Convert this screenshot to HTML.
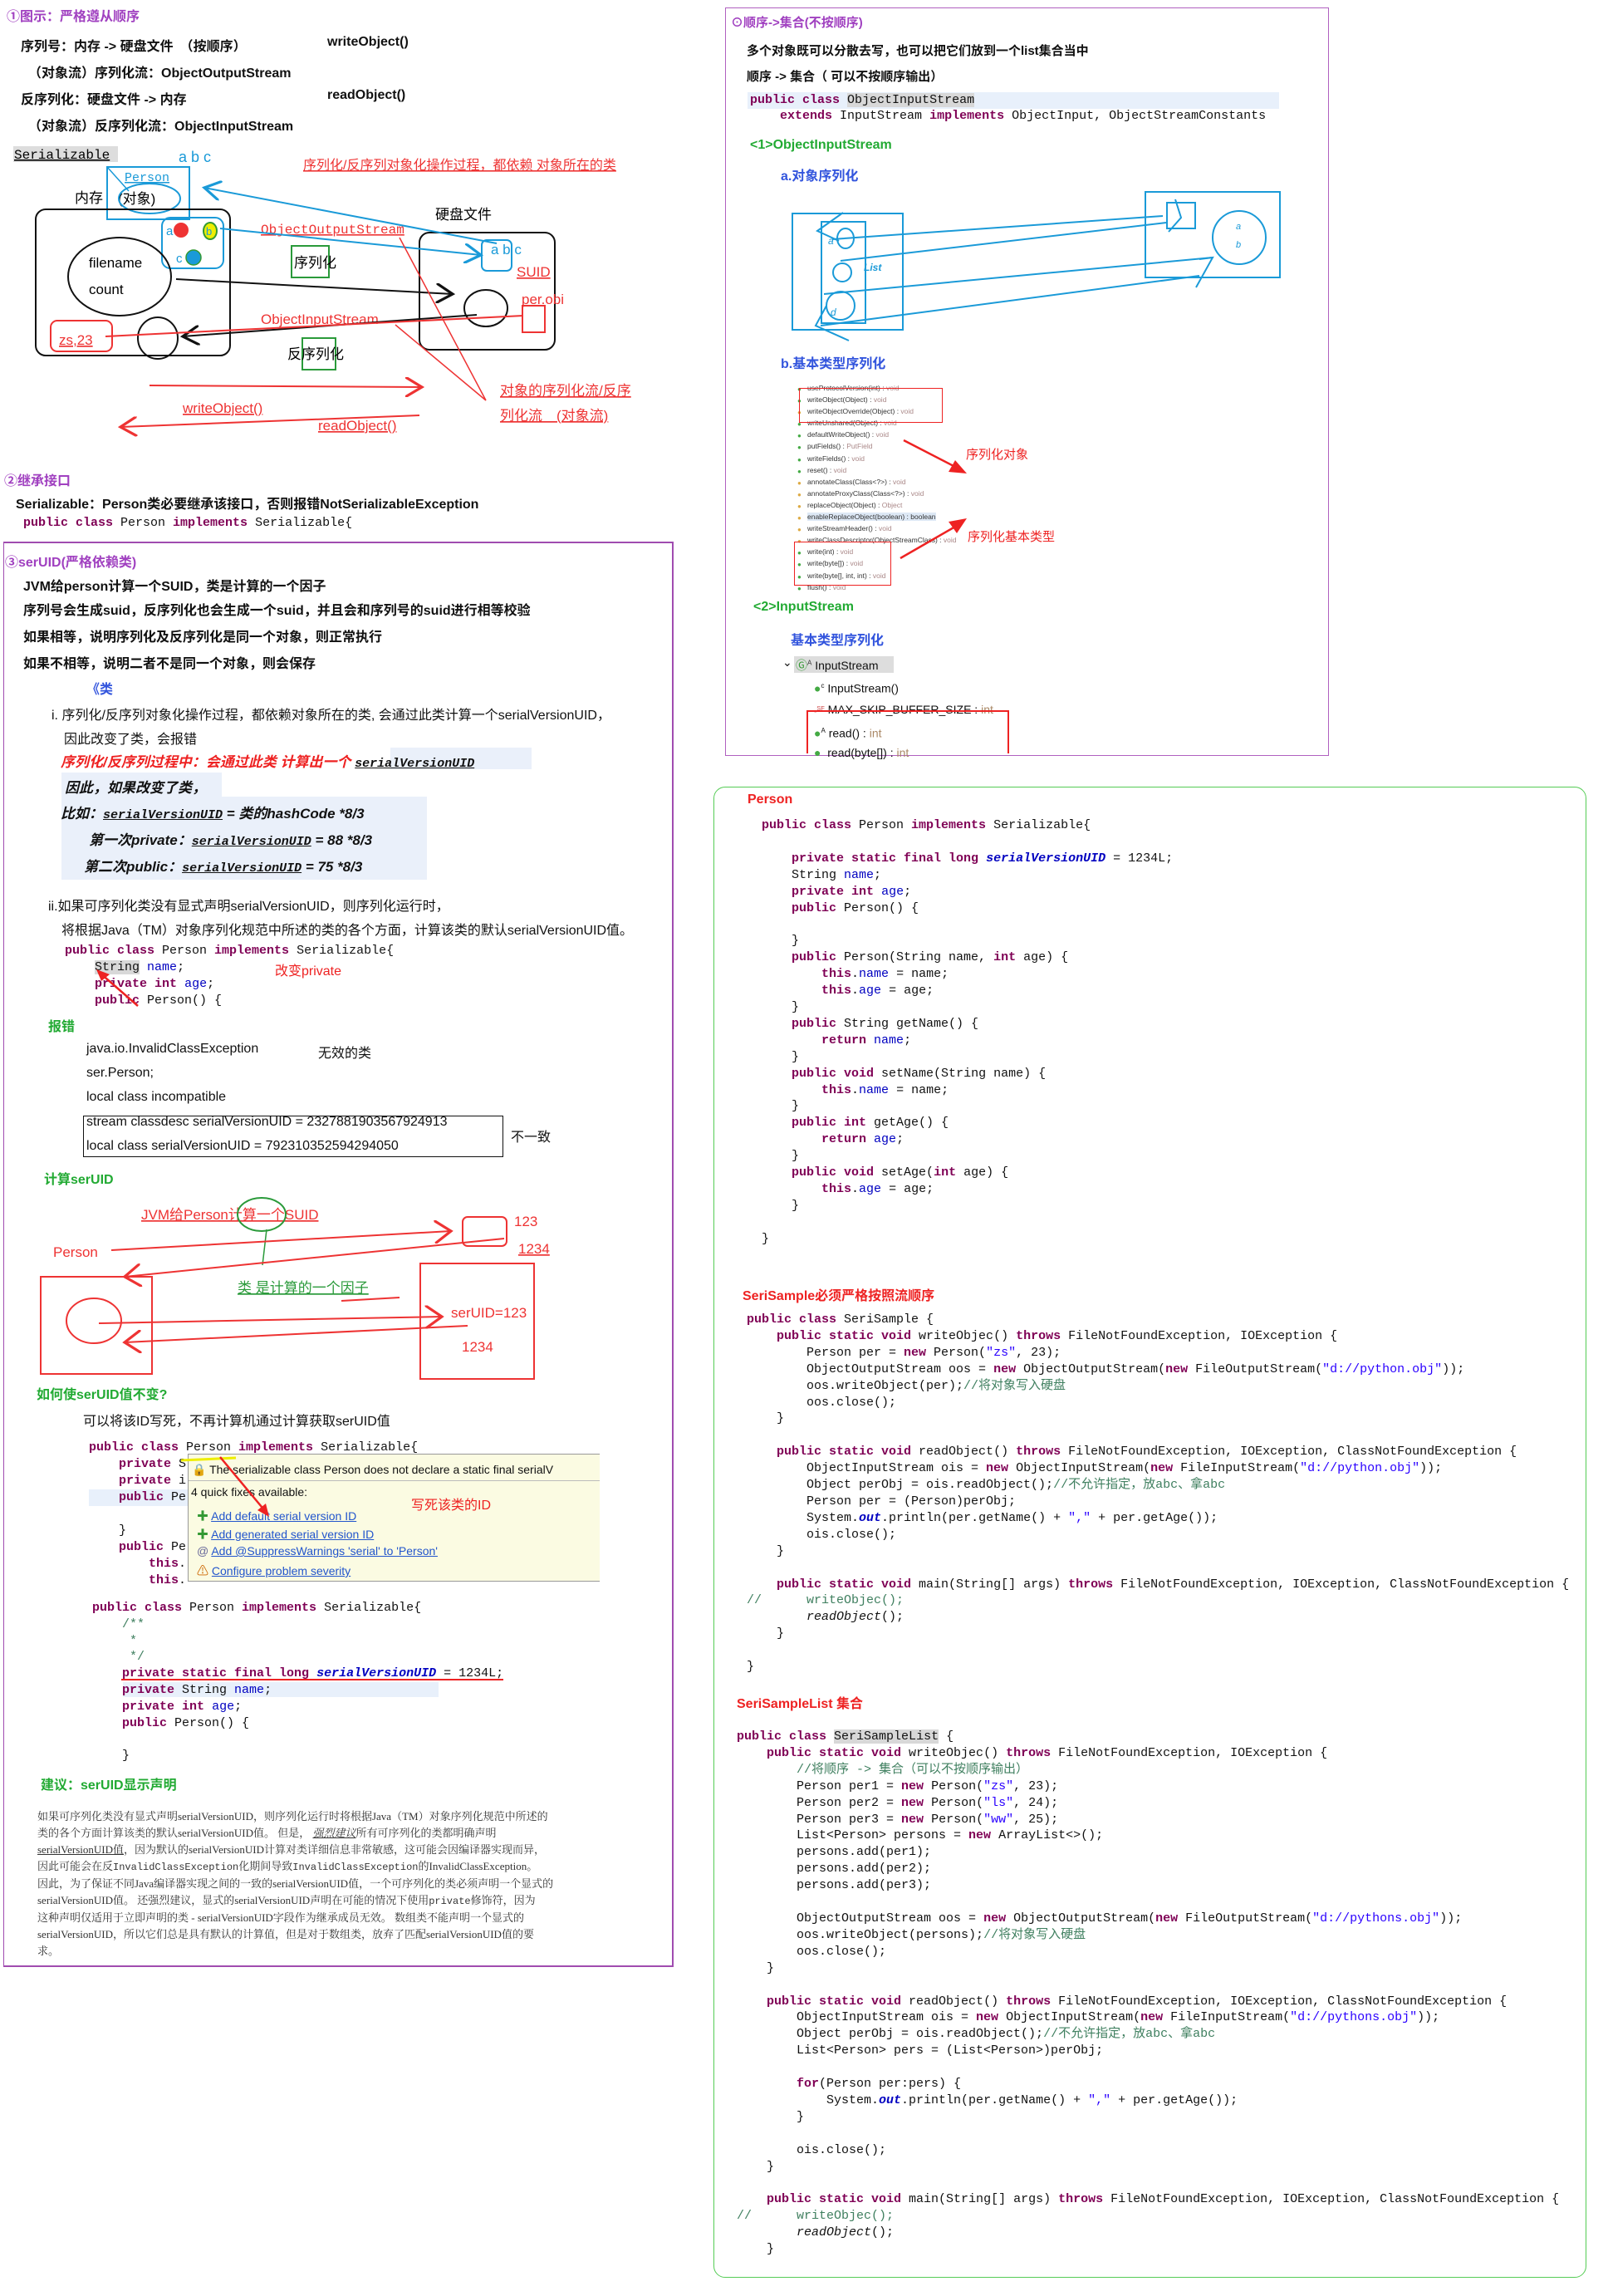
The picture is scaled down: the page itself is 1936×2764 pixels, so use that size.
<!DOCTYPE html>
<html><head><meta charset="utf-8">
<style>
*{margin:0;padding:0;box-sizing:border-box}
body{width:1936px;height:2764px;background:#fff;position:relative;overflow:hidden;font-family:"Liberation Sans","Noto Sans CJK SC",sans-serif;color:#111}
.a{position:absolute;white-space:nowrap}
pre.a{white-space:pre}
.b{font-weight:bold}
.m{font-family:"Liberation Mono","Noto Sans CJK SC",monospace;font-size:15px}
pre{font-family:"Liberation Mono","Noto Sans CJK SC",monospace;font-size:15px;line-height:19.9px;color:#111}
.k{color:#7f0055;font-weight:bold}
.s{color:#2a00ff}
.f{color:#0000c0}
.c{color:#3f7f5f}
.g{color:#22aa33;font-weight:bold}
.r{color:#e22}
.bl{color:#3355dd;font-weight:bold}
.it{font-style:italic}
</style></head><body>

<div class="a b" style="left:8px;top:6px;font-size:16px;color:#a040c0">①图示：严格遵从顺序</div>
<div class="a b" style="left:25px;top:42px;font-size:16px">序列号：内存 -&gt; 硬盘文件　（按顺序）</div>
<div class="a b" style="left:394px;top:42px;font-size:16px">writeObject()</div>
<div class="a b" style="left:34px;top:74px;font-size:16px">（对象流）序列化流：ObjectOutputStream</div>
<div class="a b" style="left:25px;top:106px;font-size:16px">反序列化：硬盘文件 -&gt; 内存</div>
<div class="a b" style="left:394px;top:106px;font-size:16px">readObject()</div>
<div class="a b" style="left:34px;top:138px;font-size:16px">（对象流）反序列化流：ObjectInputStream</div>

<svg class="a" style="left:0;top:0" width="820" height="560" font-family="Liberation Sans,Noto Sans CJK SC,sans-serif">
<defs>
<marker id="ab" markerWidth="12" markerHeight="12" refX="10" refY="6" orient="auto"><path d="M0,0 L10,6 L0,12" fill="none" stroke="#1a9ad8" stroke-width="1.6"/></marker>
<marker id="ak" markerWidth="12" markerHeight="12" refX="10" refY="6" orient="auto"><path d="M0,0 L10,6 L0,12" fill="none" stroke="#111" stroke-width="1.6"/></marker>
<marker id="ar" markerWidth="12" markerHeight="12" refX="10" refY="6" orient="auto"><path d="M0,0 L10,6 L0,12" fill="none" stroke="#e33" stroke-width="1.6"/></marker>
</defs>
<rect x="16" y="176" width="126" height="19" fill="#ddd"/>
<text x="17" y="191" font-family="Liberation Mono,monospace" font-size="16" text-decoration="underline">Serializable</text>
<text x="215" y="195" font-size="18" fill="#1a9ad8">a b c</text>
<text x="365" y="204" font-size="16" fill="#e33" text-decoration="underline">序列化/反序列对象化操作过程，都依赖 对象所在的类</text>
<rect x="129" y="201" width="99" height="63" fill="none" stroke="#1a9ad8" stroke-width="2"/>
<line x1="129" y1="201" x2="155" y2="230" stroke="#1a9ad8" stroke-width="1.5"/>
<text x="150" y="218" font-family="Liberation Mono,monospace" font-size="15" fill="#1a9ad8" text-decoration="underline">Person</text>
<text x="90" y="244" font-size="17">内存</text>
<text x="142" y="245" font-size="17">(对象)</text>
<ellipse cx="180" cy="239" rx="37" ry="18" fill="none" stroke="#1a9ad8" stroke-width="2"/>
<rect x="43" y="252" width="234" height="176" rx="12" fill="none" stroke="#111" stroke-width="2"/>
<rect x="195" y="262" width="74" height="61" rx="10" fill="none" stroke="#1a9ad8" stroke-width="2"/>
<text x="200" y="283" font-size="15" fill="#1a9ad8">a</text>
<circle cx="218" cy="277" r="9" fill="#e33"/>
<ellipse cx="253" cy="278" rx="8" ry="10" fill="#ee0" stroke="#393" stroke-width="2"/>
<text x="248" y="283" font-size="13" fill="#1a9ad8">b</text>
<text x="212" y="316" font-size="15" fill="#1a9ad8">c</text>
<circle cx="233" cy="310" r="9" fill="#1a9ad8" stroke="#393" stroke-width="1.5"/>
<ellipse cx="144" cy="333" rx="62" ry="47" fill="none" stroke="#111" stroke-width="2"/>
<text x="107" y="322" font-size="17">filename</text>
<text x="107" y="354" font-size="17">count</text>
<rect x="61" y="386" width="74" height="37" rx="8" fill="none" stroke="#e33" stroke-width="2"/>
<text x="71" y="415" font-size="17" fill="#e33" text-decoration="underline">zs,23</text>
<ellipse cx="190" cy="407" rx="24" ry="25" fill="none" stroke="#111" stroke-width="2"/>
<text x="524" y="264" font-size="17">硬盘文件</text>
<rect x="505" y="280" width="163" height="141" rx="12" fill="none" stroke="#111" stroke-width="2"/>
<rect x="580" y="289" width="36" height="37" rx="6" fill="none" stroke="#1a9ad8" stroke-width="2"/>
<text x="591" y="306" font-size="17" fill="#1a9ad8">a b c</text>
<text x="622" y="333" font-size="17" fill="#e33" text-decoration="underline">SUID</text>
<text x="628" y="366" font-size="17" fill="#e33">per.obi</text>
<rect x="629" y="368" width="27" height="32" fill="none" stroke="#e33" stroke-width="2"/>
<ellipse cx="585" cy="371" rx="26" ry="22" fill="none" stroke="#111" stroke-width="2"/>
<text x="314" y="281" font-family="Liberation Mono,monospace" font-size="16" fill="#e33" text-decoration="underline">ObjectOutputStream</text>
<text x="314" y="390" font-size="17" fill="#e33">ObjectInputStream</text>
<rect x="351" y="296" width="45" height="38" fill="none" stroke="#2a9a3a" stroke-width="2"/>
<text x="354" y="322" font-size="17">序列化</text>
<rect x="364" y="407" width="40" height="38" fill="none" stroke="#2a9a3a" stroke-width="2"/>
<text x="346" y="432" font-size="17">反序列化</text>
<line x1="265" y1="275" x2="579" y2="307" stroke="#1a9ad8" stroke-width="2" marker-end="url(#ab)"/>
<line x1="598" y1="293" x2="246" y2="226" stroke="#1a9ad8" stroke-width="2" marker-end="url(#ab)"/>
<line x1="212" y1="336" x2="545" y2="354" stroke="#111" stroke-width="2" marker-end="url(#ak)"/>
<line x1="574" y1="379" x2="220" y2="405" stroke="#111" stroke-width="2" marker-end="url(#ak)"/>
<line x1="630" y1="380" x2="127" y2="405" stroke="#e33" stroke-width="2"/>
<line x1="585" y1="482" x2="481" y2="286" stroke="#e33" stroke-width="1.5"/>
<line x1="585" y1="482" x2="476" y2="391" stroke="#e33" stroke-width="1.5"/>
<line x1="180" y1="464" x2="508" y2="466" stroke="#e33" stroke-width="2" marker-end="url(#ar)"/>
<line x1="505" y1="500" x2="145" y2="514" stroke="#e33" stroke-width="2" marker-end="url(#ar)"/>
<text x="220" y="497" font-size="17" fill="#e33" text-decoration="underline">writeObject()</text>
<text x="383" y="518" font-size="17" fill="#e33" text-decoration="underline">readObject()</text>
<text x="602" y="476" font-size="17" fill="#e33" text-decoration="underline">对象的序列化流/反序</text>
<text x="602" y="506" font-size="17" fill="#e33" text-decoration="underline">列化流　(对象流)</text>
</svg>

<div class="a b" style="left:5px;top:565px;font-size:16px;color:#a040c0">②继承接口</div>
<div class="a b" style="left:19px;top:593px;font-size:16px">Serializable：Person类必要继承该接口，否则报错NotSerializableException</div>
<pre class="a" style="left:28px;top:620px"><span class="k">public class</span> Person <span class="k">implements</span> Serializable{</pre>

<div class="a" style="left:4px;top:652px;width:807px;height:1716px;border:2px solid #a04cb0;border-left-width:1.5px"></div>
<div class="a b" style="left:6px;top:663px;font-size:16px;color:#a040c0">③serUID(严格依赖类)</div>
<div class="a b" style="left:28px;top:692px;font-size:16px">JVM给person计算一个SUID，类是计算的一个因子</div>
<div class="a b" style="left:28px;top:721px;font-size:16px">序列号会生成suid，反序列化也会生成一个suid，并且会和序列号的suid进行相等校验</div>
<div class="a b" style="left:28px;top:753px;font-size:16px">如果相等，说明序列化及反序列化是同一个对象，则正常执行</div>
<div class="a b" style="left:28px;top:785px;font-size:16px">如果不相等，说明二者不是同一个对象，则会保存</div>
<div class="a" style="left:104px;top:816px;font-size:16px;color:#3355dd;font-weight:bold">《类</div>
<div class="a" style="left:62px;top:847px;font-size:16px">i. 序列化/反序列对象化操作过程，都依赖对象所在的类, 会通过此类计算一个serialVersionUID，</div>
<div class="a" style="left:77px;top:876px;font-size:16px">因此改变了类，会报错</div>
<div class="a" style="left:470px;top:900px;width:170px;height:26px;background:#eaf0fa"></div>
<div class="a b it" style="left:73px;top:903px;font-size:17px;color:#e22">序列化/反序列过程中：会通过此类 计算出一个 <span class="m it" style="color:#111;text-decoration:underline;font-size:15px">serialVersionUID</span></div>
<div class="a" style="left:74px;top:930px;width:193px;height:32px;background:#eaf0fa"></div>
<div class="a" style="left:74px;top:959px;width:440px;height:100px;background:#eaf0fa"></div>
<div class="a b it" style="left:78px;top:934px;font-size:17px">因此，如果改变了类，</div>
<div class="a b it" style="left:73px;top:965px;font-size:17px">比如：<span class="m it" style="text-decoration:underline">serialVersionUID</span> = 类的hashCode *8/3</div>
<div class="a b it" style="left:107px;top:997px;font-size:17px">第一次private：<span class="m it" style="text-decoration:underline">serialVersionUID</span>  = 88 *8/3</div>
<div class="a b it" style="left:101px;top:1029px;font-size:17px">第二次public：<span class="m it" style="text-decoration:underline">serialVersionUID</span>  = 75 *8/3</div>

<div class="a" style="left:58px;top:1077px;font-size:16px">ii.如果可序列化类没有显式声明serialVersionUID，则序列化运行时，</div>
<div class="a" style="left:74px;top:1106px;font-size:16px">将根据Java（TM）对象序列化规范中所述的类的各个方面，计算该类的默认serialVersionUID值。</div>
<pre class="a" style="left:78px;top:1135px"><span class="k">public class</span> Person <span class="k">implements</span> Serializable{
    <span style="background:#d8d8d8">String</span> <span class="f">name</span>;
    <span class="k">private int</span> <span class="f">age</span>;
    <span class="k">public</span> Person() {</pre>
<div class="a r" style="left:331px;top:1155px;font-size:16px">改变private</div>
<svg class="a" style="left:110px;top:1165px" width="60" height="50"><line x1="56" y1="46" x2="10" y2="6" stroke="#e22" stroke-width="2.5"/><path d="M6,2 L22,8 L12,16 Z" fill="#e22"/></svg>
<div class="a g" style="left:58px;top:1222px;font-size:16px">报错</div>
<div class="a" style="left:104px;top:1254px;font-size:16px">java.io.InvalidClassException</div>
<div class="a" style="left:383px;top:1254px;font-size:16px">无效的类</div>
<div class="a" style="left:104px;top:1283px;font-size:16px">ser.Person;</div>
<div class="a" style="left:104px;top:1312px;font-size:16px">local class incompatible</div>
<div class="a" style="left:100px;top:1343px;width:506px;height:50px;border:1.5px solid #111"></div>
<div class="a" style="left:104px;top:1342px;font-size:16px">stream classdesc serialVersionUID = 2327881903567924913</div>
<div class="a" style="left:104px;top:1371px;font-size:16px">local class serialVersionUID = 792310352594294050</div>
<div class="a" style="left:615px;top:1355px;font-size:16px">不一致</div>

<div class="a g" style="left:53px;top:1406px;font-size:16px">计算serUID</div>
<svg class="a" style="left:0;top:1400px" width="800" height="280" font-family="Liberation Sans,Noto Sans CJK SC,sans-serif">
<defs><marker id="ar2" markerWidth="12" markerHeight="14" refX="10" refY="7" orient="auto"><path d="M0,0 L10,7 L0,14" fill="none" stroke="#e33" stroke-width="1.6"/></marker></defs>
<text x="170" y="68" font-size="17" fill="#e33" text-decoration="underline">JVM给Person计算一个SUID</text>
<ellipse cx="315" cy="62" rx="29" ry="20" fill="none" stroke="#2a9a3a" stroke-width="2"/>
<line x1="321" y1="80" x2="316" y2="123" stroke="#2a9a3a" stroke-width="1.5"/>
<text x="64" y="113" font-size="17" fill="#e33">Person</text>
<rect x="557" y="65" width="53" height="35" rx="6" fill="none" stroke="#e33" stroke-width="2"/>
<text x="619" y="76" font-size="17" fill="#e33">123</text>
<text x="624" y="109" font-size="17" fill="#e33" text-decoration="underline">1234</text>
<line x1="134" y1="105" x2="543" y2="82" stroke="#e33" stroke-width="2" marker-end="url(#ar2)"/>
<line x1="607" y1="91" x2="150" y2="137" stroke="#e33" stroke-width="2" marker-end="url(#ar2)"/>
<rect x="49" y="137" width="134" height="117" fill="none" stroke="#e33" stroke-width="2"/>
<ellipse cx="113" cy="190" rx="33" ry="27" fill="none" stroke="#e33" stroke-width="2"/>
<rect x="506" y="121" width="137" height="139" fill="none" stroke="#e33" stroke-width="2"/>
<text x="286" y="156" font-size="17" fill="#2a9a3a" text-decoration="underline">类 是计算的一个因子</text>
<line x1="411" y1="166" x2="481" y2="162" stroke="#e33" stroke-width="2"/>
<line x1="119" y1="193" x2="532" y2="185" stroke="#e33" stroke-width="2" marker-end="url(#ar2)"/>
<line x1="563" y1="196" x2="150" y2="216" stroke="#e33" stroke-width="2" marker-end="url(#ar2)"/>
<text x="543" y="186" font-size="17" fill="#e33">serUID=123</text>
<text x="556" y="227" font-size="17" fill="#e33">1234</text>
</svg>

<div class="a g" style="left:44px;top:1665px;font-size:16px">如何使serUID值不变?</div>
<div class="a" style="left:100px;top:1697px;font-size:16px">可以将该ID写死，不再计算机通过计算获取serUID值</div>
<div class="a" style="left:107px;top:1793px;width:120px;height:20px;background:#e8f0fb"></div>
<pre class="a" style="left:107px;top:1733px;line-height:20px"><span class="k">public class</span> Person <span class="k">implements</span> Serializable{
    <span class="k">private</span> S
    <span class="k">private</span> i
    <span class="k">public</span> Pe

    }
    <span class="k">public</span> Pe
        <span class="k">this</span>.
        <span class="k">this</span>.</pre>
<div class="a" style="left:226px;top:1750px;width:496px;height:154px;background:#fbfbe2;border:1px solid #999;border-right:none;font-size:14px">
<div style="position:absolute;left:4px;top:10px">🔒 The serializable class Person does not declare a static final serialV</div>
<div style="position:absolute;left:0;top:31px;width:100%;border-top:1px solid #bbb"></div>
<div style="position:absolute;left:3px;top:37px">4 quick fixes available:</div>
<div style="position:absolute;left:10px;top:64px;color:#2255cc"><span style="color:#393">✚</span> <u>Add default serial version ID</u></div>
<div style="position:absolute;left:10px;top:86px;color:#2255cc"><span style="color:#393">✚</span> <u>Add generated serial version ID</u></div>
<div style="position:absolute;left:10px;top:108px;color:#2255cc"><span style="color:#669">@</span> <u>Add @SuppressWarnings 'serial' to 'Person'</u></div>
<div style="position:absolute;left:10px;top:130px;color:#2255cc"><span style="color:#c60">⚠</span> <u>Configure problem severity</u></div>
<div style="position:absolute;left:268px;top:47px;color:#e22;font-size:16px">写死该类的ID</div>
</div>
<svg class="a" style="left:210px;top:1750px" width="120" height="80"><line x1="8" y1="8" x2="74" y2="5" stroke="#ee0" stroke-width="3"/><line x1="55" y1="4" x2="110" y2="70" stroke="#e22" stroke-width="2.5"/><path d="M114,76 L100,68 L110,60 Z" fill="#e22"/></svg>
<div class="a" style="left:148px;top:2025px;width:380px;height:18px;background:#e8f0fb"></div>
<pre class="a" style="left:111px;top:1926px;line-height:19.8px"><span class="k">public class</span> Person <span class="k">implements</span> Serializable{
    <span class="c">/**</span>
    <span class="c"> *</span>
    <span class="c"> */</span>
    <span class="k">private static final long</span> <span class="f it b">serialVersionUID</span> = 1234L;
    <span class="k">private</span> String <span class="f">name</span>;
    <span class="k">private int</span> <span class="f">age</span>;
    <span class="k">public</span> Person() {

    }</pre>
<div class="a" style="left:146px;top:2021px;width:460px;border-top:2px solid #e22"></div>
<div class="a g" style="left:49px;top:2135px;font-size:16px">建议：serUID显示声明</div>
<div class="a" style="left:45px;top:2177px;font-size:13px;line-height:20px;font-family:'Liberation Serif','Noto Serif CJK SC',serif;color:#333">如果可序列化类没有显式声明serialVersionUID，则序列化运行时将根据Java（TM）对象序列化规范中所述的<br>类的各个方面计算该类的默认serialVersionUID值。 但是， <i style="text-decoration:underline">强烈建议</i>所有可序列化的类都明确声明<br><u>serialVersionUID值</u>，因为默认的serialVersionUID计算对类详细信息非常敏感，这可能会因编译器实现而异，<br>因此可能会在反<span style="font-family:'Liberation Mono';font-size:12px">InvalidClassException</span>化期间导致<span style="font-family:'Liberation Mono';font-size:12px">InvalidClassException</span>的InvalidClassException。<br>因此，为了保证不同Java编译器实现之间的一致的serialVersionUID值，一个可序列化的类必须声明一个显式的<br>serialVersionUID值。 还强烈建议，显式的serialVersionUID声明在可能的情况下使用<span style="font-family:'Liberation Mono';font-size:12px">private</span>修饰符，因为<br>这种声明仅适用于立即声明的类 - serialVersionUID字段作为继承成员无效。 数组类不能声明一个显式的<br>serialVersionUID，所以它们总是具有默认的计算值，但是对于数组类，放弃了匹配serialVersionUID值的要<br>求。</div>

<div class="a" style="left:873px;top:9px;width:727px;height:901px;border:1.5px solid #b060c0"></div>
<div class="a" style="left:880px;top:16px;font-size:15px;color:#a040c0;font-weight:bold">⊙顺序-&gt;集合(不按顺序)</div>
<div class="a b" style="left:899px;top:50px;font-size:15px">多个对象既可以分散去写，也可以把它们放到一个list集合当中</div>
<div class="a b" style="left:899px;top:81px;font-size:15px">顺序 -&gt; 集合（ 可以不按顺序输出）</div>
<div class="a" style="left:900px;top:111px;width:640px;height:20px;background:#e8f0fb"></div>
<pre class="a" style="left:903px;top:111px;line-height:19px"><span class="k">public class</span> <span style="background:#d8d8d8">ObjectInputStream</span>
    <span class="k">extends</span> InputStream <span class="k">implements</span> ObjectInput, ObjectStreamConstants</pre>
<div class="a g" style="left:903px;top:166px;font-size:16px">&lt;1&gt;ObjectInputStream</div>
<div class="a bl" style="left:940px;top:198px;font-size:16px">a.对象序列化</div>
<svg class="a" style="left:940px;top:220px" width="620" height="200">
<g fill="none" stroke="#1a9ad8" stroke-width="2">
<rect x="14" y="37" width="133" height="140"/>
<rect x="49" y="47" width="53" height="122"/>
<ellipse cx="78" cy="67" rx="10" ry="12"/>
<circle cx="74" cy="108" r="11"/>
<circle cx="72" cy="148" r="17"/>
<rect x="439" y="11" width="162" height="103"/>
<rect x="465" y="24" width="34" height="31"/>
<circle cx="552" cy="66" r="32"/>
<path d="M62,68 L460,40 M72,94 L464,48 M52,134 L520,90 M48,172 L504,112"/>
<path d="M75,36 L44,58 L70,70 M475,20 L482,42 L467,59 M55,148 L42,172 L82,190 M504,92 L520,90 L500,126"/>
</g>
<text x="57" y="74" font-size="12" fill="#1a9ad8" font-style="italic">a</text>
<text x="100" y="106" font-size="12" fill="#1a9ad8" font-style="italic" font-weight="bold">List</text>
<text x="60" y="160" font-size="12" fill="#1a9ad8" font-style="italic">d</text>
<text x="548" y="56" font-size="11" fill="#1a9ad8" font-style="italic">a</text>
<text x="548" y="78" font-size="11" fill="#1a9ad8" font-style="italic">b</text>
</svg>
<div class="a bl" style="left:940px;top:424px;font-size:16px">b.基本类型序列化</div>
<div class="a" style="left:972px;top:460px;font-size:8.5px;line-height:14.1px;color:#333">
useProtocolVersion(int) : <span style="color:#a88">void</span><br>writeObject(Object) : <span style="color:#a88">void</span><br>writeObjectOverride(Object) : <span style="color:#a88">void</span><br>writeUnshared(Object) : <span style="color:#a88">void</span><br>defaultWriteObject() : <span style="color:#a88">void</span><br>putFields() : <span style="color:#a88">PutField</span><br>writeFields() : <span style="color:#a88">void</span><br>reset() : <span style="color:#a88">void</span><br>annotateClass(Class&lt;?&gt;) : <span style="color:#a88">void</span><br>annotateProxyClass(Class&lt;?&gt;) : <span style="color:#a88">void</span><br>replaceObject(Object) : <span style="color:#a88">Object</span><br><span style="background:#dde8f5">enableReplaceObject(boolean) : boolean</span><br>writeStreamHeader() : <span style="color:#a88">void</span><br>writeClassDescriptor(ObjectStreamClass) : <span style="color:#a88">void</span><br>write(int) : <span style="color:#a88">void</span><br>write(byte[]) : <span style="color:#a88">void</span><br>write(byte[], int, int) : <span style="color:#a88">void</span><br>flush() : <span style="color:#a88">void</span></div>
<div class="a" style="left:960px;top:462px;font-size:8px;line-height:14.1px;color:#4a4">●<br>●<br><span style="color:#da4">●</span><br>●<br>●<br>●<br>●<br>●<br><span style="color:#da4">●</span><br><span style="color:#da4">●</span><br><span style="color:#da4">●</span><br><span style="color:#da4">●</span><br><span style="color:#da4">●</span><br><span style="color:#da4">●</span><br>●<br>●<br>●<br>●</div>
<div class="a" style="left:962px;top:467px;width:173px;height:42px;border:1.5px solid #e22"></div>
<div class="a" style="left:956px;top:652px;width:117px;height:53px;border:1.5px solid #e22"></div>
<svg class="a" style="left:1080px;top:520px" width="100" height="160"><line x1="8" y1="10" x2="70" y2="42" stroke="#e22" stroke-width="2.5"/><path d="M84,50 L62,48 L70,34 Z" fill="#e22"/><line x1="4" y1="152" x2="70" y2="114" stroke="#e22" stroke-width="2.5"/><path d="M84,104 L62,108 L72,122 Z" fill="#e22"/></svg>
<div class="a r" style="left:1163px;top:536px;font-size:15px">序列化对象</div>
<div class="a r" style="left:1165px;top:635px;font-size:15px">序列化基本类型</div>
<div class="a g" style="left:907px;top:722px;font-size:16px">&lt;2&gt;InputStream</div>
<div class="a bl" style="left:952px;top:757px;font-size:16px">基本类型序列化</div>
<div class="a" style="left:942px;top:789px;font-size:14px">⌄</div>
<div class="a" style="left:956px;top:790px;width:120px;height:20px;background:#ddd"></div>
<div class="a" style="left:958px;top:791px;font-size:14px;color:#393">Ⓖ<sup style="font-size:8px;color:#333">A</sup> <span style="color:#111">InputStream</span></div>
<div class="a" style="left:980px;top:814px;font-size:14px;line-height:23.3px"><span style="color:#4a4">●</span><sup style="font-size:8px">c</sup> InputStream()<br><span style="color:#c44;font-size:9px">▫<sup>SF</sup></span> MAX_SKIP_BUFFER_SIZE : <span style="color:#a86">int</span><br><span style="color:#4a4">●</span><sup style="font-size:8px">A</sup> read() : <span style="color:#a86">int</span><br><span style="color:#4a4">●</span>&nbsp; read(byte[]) : <span style="color:#a86">int</span></div>
<div class="a" style="left:971px;top:855px;width:244px;height:52px;border:2px solid #e22;border-bottom:none"></div>

<div class="a" style="left:859px;top:947px;width:1051px;height:1795px;border:1.5px solid #5c5;border-radius:14px"></div>
<div class="a b r" style="left:900px;top:954px;font-size:16px">Person</div>
<pre class="a" style="left:917px;top:984px"><span class="k">public class</span> Person <span class="k">implements</span> Serializable{

    <span class="k">private static final long</span> <span class="f it b">serialVersionUID</span> = 1234L;
    String <span class="f">name</span>;
    <span class="k">private int</span> <span class="f">age</span>;
    <span class="k">public</span> Person() {

    }
    <span class="k">public</span> Person(String name, <span class="k">int</span> age) {
        <span class="k">this</span>.<span class="f">name</span> = name;
        <span class="k">this</span>.<span class="f">age</span> = age;
    }
    <span class="k">public</span> String getName() {
        <span class="k">return</span> <span class="f">name</span>;
    }
    <span class="k">public void</span> setName(String name) {
        <span class="k">this</span>.<span class="f">name</span> = name;
    }
    <span class="k">public int</span> getAge() {
        <span class="k">return</span> <span class="f">age</span>;
    }
    <span class="k">public void</span> setAge(<span class="k">int</span> age) {
        <span class="k">this</span>.<span class="f">age</span> = age;
    }

}</pre>
<div class="a b r" style="left:894px;top:1546px;font-size:16px">SeriSample必须严格按照流顺序</div>
<pre class="a" style="left:899px;top:1579px"><span class="k">public class</span> SeriSample {
    <span class="k">public static void</span> writeObjec() <span class="k">throws</span> FileNotFoundException, IOException {
        Person per = <span class="k">new</span> Person(<span class="s">"zs"</span>, 23);
        ObjectOutputStream oos = <span class="k">new</span> ObjectOutputStream(<span class="k">new</span> FileOutputStream(<span class="s">"d://python.obj"</span>));
        oos.writeObject(per);<span class="c">//将对象写入硬盘</span>
        oos.close();
    }

    <span class="k">public static void</span> readObject() <span class="k">throws</span> FileNotFoundException, IOException, ClassNotFoundException {
        ObjectInputStream ois = <span class="k">new</span> ObjectInputStream(<span class="k">new</span> FileInputStream(<span class="s">"d://python.obj"</span>));
        Object perObj = ois.readObject();<span class="c">//不允许指定，放abc、拿abc</span>
        Person per = (Person)perObj;
        System.<span class="f it b">out</span>.println(per.getName() + <span class="s">","</span> + per.getAge());
        ois.close();
    }

    <span class="k">public static void</span> main(String[] args) <span class="k">throws</span> FileNotFoundException, IOException, ClassNotFoundException {
<span class="c">//      writeObjec();</span>
        <span class="it">readObject</span>();
    }

}</pre>
<div class="a b r" style="left:887px;top:2037px;font-size:16px">SeriSampleList 集合</div>
<pre class="a" style="left:887px;top:2081px"><span class="k">public class</span> <span style="background:#d8d8d8">SeriSampleList</span> {
    <span class="k">public static void</span> writeObjec() <span class="k">throws</span> FileNotFoundException, IOException {
        <span class="c">//将顺序 -&gt; 集合（可以不按顺序输出）</span>
        Person per1 = <span class="k">new</span> Person(<span class="s">"zs"</span>, 23);
        Person per2 = <span class="k">new</span> Person(<span class="s">"ls"</span>, 24);
        Person per3 = <span class="k">new</span> Person(<span class="s">"ww"</span>, 25);
        List&lt;Person&gt; persons = <span class="k">new</span> ArrayList&lt;&gt;();
        persons.add(per1);
        persons.add(per2);
        persons.add(per3);

        ObjectOutputStream oos = <span class="k">new</span> ObjectOutputStream(<span class="k">new</span> FileOutputStream(<span class="s">"d://pythons.obj"</span>));
        oos.writeObject(persons);<span class="c">//将对象写入硬盘</span>
        oos.close();
    }

    <span class="k">public static void</span> readObject() <span class="k">throws</span> FileNotFoundException, IOException, ClassNotFoundException {
        ObjectInputStream ois = <span class="k">new</span> ObjectInputStream(<span class="k">new</span> FileInputStream(<span class="s">"d://pythons.obj"</span>));
        Object perObj = ois.readObject();<span class="c">//不允许指定，放abc、拿abc</span>
        List&lt;Person&gt; pers = (List&lt;Person&gt;)perObj;

        <span class="k">for</span>(Person per:pers) {
            System.<span class="f it b">out</span>.println(per.getName() + <span class="s">","</span> + per.getAge());
        }

        ois.close();
    }

    <span class="k">public static void</span> main(String[] args) <span class="k">throws</span> FileNotFoundException, IOException, ClassNotFoundException {
<span class="c">//      writeObjec();</span>
        <span class="it">readObject</span>();
    }</pre>
</body></html>
